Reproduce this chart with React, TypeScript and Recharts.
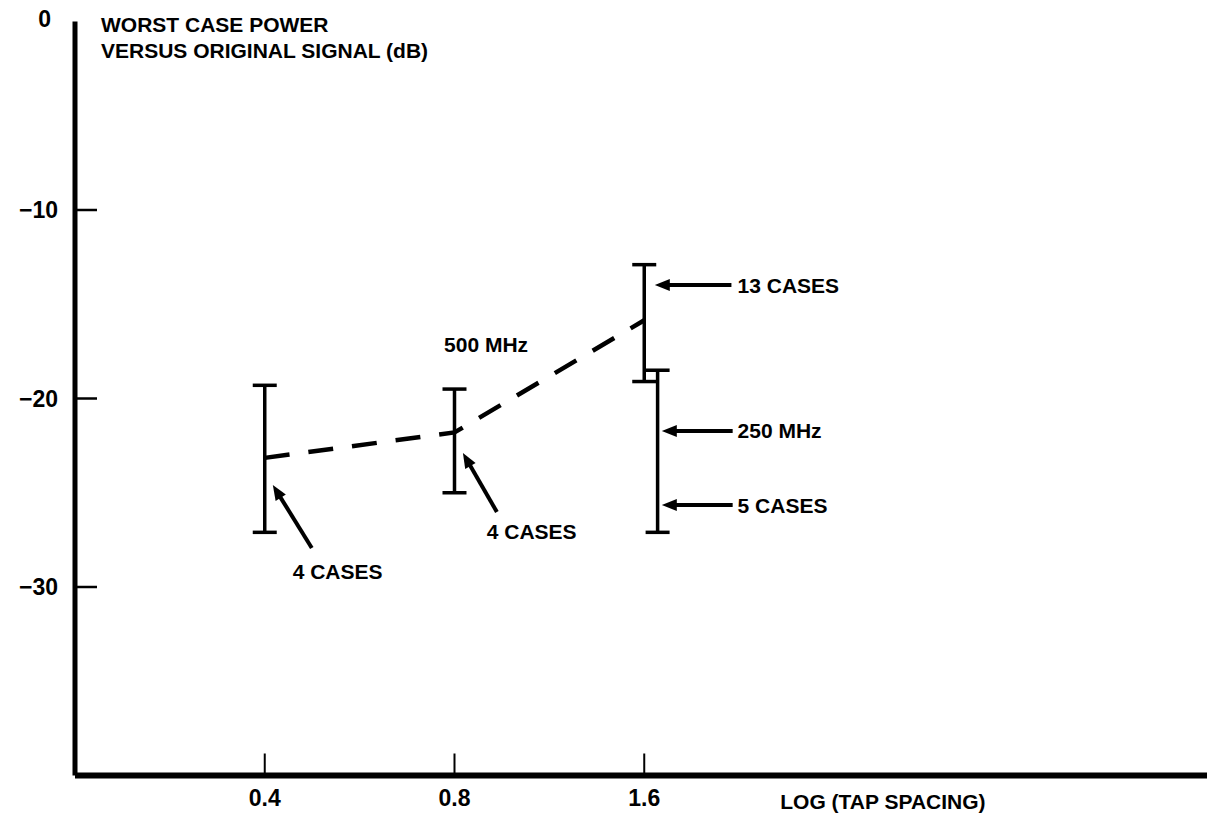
import React from 'react';
import {
  ComposedChart,
  XAxis,
  YAxis,
  Line,
  Scatter,
  ErrorBar,
  ReferenceLine,
  ReferenceDot,
} from 'recharts';

// ---- data ----
const xTicks = [0.4, 0.8, 1.6];
const yTicks = [0, -10, -20, -30];

// worst-case power ranges (dB) at each tap spacing
const rangeX = [0.4, 0.8, 1.6, 1.68];
const rangeLow = [-27.1, -25.0, -19.1, -27.1];
const rangeHigh = [-19.3, -19.5, -12.9, -18.5];

// dashed 500 MHz trend
const trendX = [0.4, 0.8, 1.6];
const trendY = [-23.15, -21.8, -15.85];

// annotation arrows (tail -> tip)
const arrowFromX = [0.475, 0.934, 2.2, 2.21, 2.21];
const arrowFromY = [-27.93, -26.02, -13.98, -21.72, -25.65];
const arrowToX = [0.412, 0.825, 1.663, 1.706, 1.706];
const arrowToY = [-24.59, -22.89, -13.98, -21.72, -25.65];

// annotation texts
const noteText = ['4 CASES', '4 CASES', '13 CASES', '250 MHz', '5 CASES', '500 MHz'];
const noteX = [0.443, 0.9, 2.25, 2.25, 2.25, 0.77];
const noteY = [-29.2, -27.08, -13.98, -21.72, -25.65, -17.16];

const rangeData = rangeX.map((x, i) => {
  const y = (rangeLow[i] + rangeHigh[i]) / 2;
  return { x, y, err: [y - rangeLow[i], rangeHigh[i] - y] };
});
const trendData = trendX.map((x, i) => ({ x, y: trendY[i] }));

const FONT = "'Liberation Sans', Arial, Helvetica, sans-serif";
const FS = 21;
const TICK_FS = 23;
const Y_TICK_MARGIN = 17;
const TICK_LEN = 22;

const fmtY = (v: number) => (v < 0 ? `\u2212${-v}` : `${v}`);

// y tick: label outside, short tick mark pointing inward (none at 0)
const YTick = (p: any) => {
  const { x, y, payload } = p;
  const v = payload.value;
  const axisX = x + Y_TICK_MARGIN;
  return (
    <g>
      <text
        x={v === 0 ? x - 7 : x}
        y={v === 0 ? y - 3 : y}
        textAnchor="end"
        dominantBaseline="central"
        fontFamily={FONT}
        fontWeight="bold"
        fontSize={TICK_FS}
        fill="#000"
      >
        {fmtY(v)}
      </text>
      {v !== 0 && (
        <line x1={axisX} y1={y} x2={axisX + TICK_LEN} y2={y} stroke="#000" strokeWidth={2.5} />
      )}
    </g>
  );
};

const NoLabel = () => <g />;

const Arrow = (p: any) => {
  const { x1, y1, x2, y2 } = p;
  const dx = x2 - x1;
  const dy = y2 - y1;
  const len = Math.sqrt(dx * dx + dy * dy) || 1;
  const ux = dx / len;
  const uy = dy / len;
  const hl = 15;
  const hw = 6;
  const bx = x2 - ux * hl;
  const by = y2 - uy * hl;
  const pts = `${x2},${y2} ${bx - uy * hw},${by + ux * hw} ${bx + uy * hw},${by - ux * hw}`;
  return (
    <g>
      <line x1={x1} y1={y1} x2={bx + ux * 2} y2={by + uy * 2} stroke="#000" strokeWidth={4} />
      <polygon points={pts} fill="#000" />
    </g>
  );
};

const TitleLabel = (p: any) => {
  const vb = p.viewBox || { x: 0, y: 0, width: 0 };
  const x = vb.x + vb.width + 26;
  return (
    <text x={x} y={vb.y + 10} fontFamily={FONT} fontWeight="bold" fontSize={FS} fill="#000">
      <tspan x={x} dy={0}>WORST CASE POWER</tspan>
      <tspan x={x} dy={26}>VERSUS ORIGINAL SIGNAL (dB)</tspan>
    </text>
  );
};

const XTitle = (p: any) => {
  const vb = p.viewBox || { x: 0, y: 0, width: 0 };
  return (
    <text
      x={vb.x + vb.width * 0.623}
      y={vb.y + 33}
      fontFamily={FONT}
      fontWeight="bold"
      fontSize={FS}
      fill="#000"
    >
      LOG (TAP SPACING)
    </text>
  );
};

export default function App() {
  return (
    <div style={{ position: 'absolute', left: 0, top: 0, background: '#fff' }}>
      <ComposedChart width={1207} height={826} margin={{ top: 21.5, right: 0, bottom: 0.5, left: 0 }}>
        {/* tick marks pointing inward */}
        <XAxis
          xAxisId="xm"
          dataKey="x"
          type="number"
          scale="log"
          domain={[0.2, 12.5]}
          allowDataOverflow
          ticks={xTicks}
          interval={0}
          mirror
          tick={NoLabel}
          tickSize={TICK_LEN}
          axisLine={{ stroke: '#000', strokeWidth: 6 }}
          tickLine={{ stroke: '#000', strokeWidth: 2 }}
        />
        <XAxis
          xAxisId="xl"
          dataKey="x"
          type="number"
          scale="log"
          domain={[0.2, 12.5]}
          allowDataOverflow
          ticks={xTicks}
          interval={0}
          height={50}
          axisLine={false}
          tickLine={false}
          tickSize={0}
          tickMargin={14}
          tick={{ fill: '#000', fontFamily: FONT, fontWeight: 'bold', fontSize: TICK_FS }}
          label={{ content: XTitle }}
        />
        <YAxis
          yAxisId="yl"
          dataKey="y"
          type="number"
          domain={[-40, 0]}
          allowDataOverflow
          ticks={yTicks}
          interval={0}
          width={75}
          axisLine={{ stroke: '#000', strokeWidth: 5 }}
          tickLine={false}
          tickSize={0}
          tickMargin={Y_TICK_MARGIN}
          tick={YTick}
          label={{ content: TitleLabel }}
        />

        <Line
          xAxisId="xl"
          yAxisId="yl"
          data={trendData}
          dataKey="y"
          type="linear"
          stroke="#000"
          strokeWidth={4.5}
          strokeDasharray="25 19"
          dot={false}
          activeDot={false}
          isAnimationActive={false}
        />

        <Scatter
          xAxisId="xl"
          yAxisId="yl"
          data={rangeData}
          dataKey="y"
          shape={() => <g />}
          isAnimationActive={false}
        >
          <ErrorBar dataKey="err" direction="y" width={12} stroke="#000" strokeWidth={3.5} isAnimationActive={false} />
        </Scatter>

        {arrowFromX.map((fx, i) => (
          <ReferenceLine
            key={`arrow-${i}`}
            xAxisId="xl"
            yAxisId="yl"
            segment={[
              { x: fx, y: arrowFromY[i] },
              { x: arrowToX[i], y: arrowToY[i] },
            ]}
            shape={Arrow}
          />
        ))}

        {noteText.map((t, i) => (
          <ReferenceDot
            key={`note-${i}`}
            xAxisId="xl"
            yAxisId="yl"
            x={noteX[i]}
            y={noteY[i]}
            r={0}
            shape={(p: any) => (
              <text
                x={p.cx}
                y={p.cy}
                dominantBaseline="central"
                fontFamily={FONT}
                fontWeight="bold"
                fontSize={FS}
                fill="#000"
              >
                {t}
              </text>
            )}
          />
        ))}
      </ComposedChart>
    </div>
  );
}
